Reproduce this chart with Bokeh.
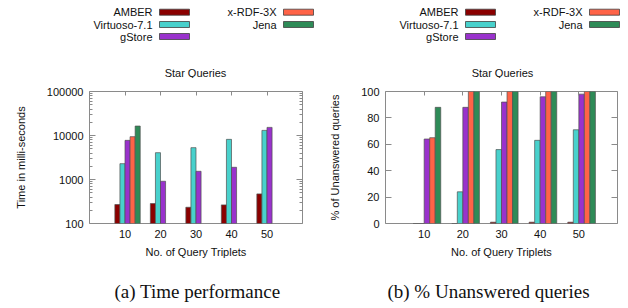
from bokeh.plotting import figure
from bokeh.layouts import row, column
from bokeh.models import Range1d, FixedTicker, LinearAxis, LogAxis, ColumnDataSource
from bokeh.core.properties import value
from bokeh.embed import file_html
from bokeh.resources import INLINE

nan = float("nan")

categories = ["10", "20", "30", "40", "50"]
systems = ["AMBER", "Virtuoso-7.1", "gStore", "x-RDF-3X", "Jena"]
colors = ["#8B0000", "#48D1CC", "#9932CC", "#FF6347", "#2E8B57"]

# (a) time performance, ms (log scale)
time_amber = [270, 284, 234, 265, 471]
time_virtuoso = [2290, 4070, 5290, 8170, 13070]
time_gstore = [7760, 912, 1537, 1894, 15290]
time_xrdf3x = [9400, nan, nan, nan, nan]
time_jena = [16400, nan, nan, nan, nan]

# (b) % unanswered queries
unans_amber = [0, 0, 1, 1, 1]
unans_virtuoso = [0, 24, 56, 63, 71]
unans_gstore = [64, 88, 92, 96, 98]
unans_xrdf3x = [65, 100, 100, 100, 100]
unans_jena = [88, 100, 100, 100, 100]

time_ticks = [100, 1000, 10000, 100000]
time_tick_labels = ["100", "1000", "10000", "100000"]
pct_ticks = [0, 20, 40, 60, 80, 100]
pct_tick_labels = ["0", "20", "40", "60", "80", "100"]

title_text = "Star Queries"
xlabel = "No. of Query Triplets"
ylabel_a = "Time in milli-seconds"
ylabel_b = "% of Unanswered queries"
caption_a = "(a) Time performance"
caption_b = "(b) % Unanswered queries"

FONT = "Liberation Sans"
FS = "11px"
TXT = "#111111"
FRAME = "#8a8a8a"
SERIF = "Liberation Serif"

TOTAL_W = 624
TOP_H, MAIN_H, CAP_H = 78, 190, 36
FRAME_TOP, FRAME_BOT = 91, 223


def strip(y0, h):
    s = figure(width=TOTAL_W, height=h, output_backend="svg", toolbar_location=None,
               x_range=Range1d(0, TOTAL_W), y_range=Range1d(y0 + h, y0),
               min_border=0, x_axis_location=None, y_axis_location=None)
    s.grid.visible = False
    s.outline_line_color = None
    s.background_fill_color = "white"
    s.border_fill_color = "white"
    return s


def add_legend_title(top, legend_cols, title_x):
    rows_y = [11.7, 24, 36]
    lx, ly, lt, bl, br, bt, bb, bc = [], [], [], [], [], [], [], []
    k = 0
    for c, (lab_r, box_l) in enumerate(legend_cols):
        nrows = 3 if c == 0 else 2
        for r in range(nrows):
            Y = rows_y[r]
            lx.append(lab_r); ly.append(Y); lt.append(systems[k])
            bl.append(box_l); br.append(box_l + 30)
            bt.append(Y - 3); bb.append(Y + 3); bc.append(colors[k])
            k += 1
    top.text(x=lx, y=ly, text=lt, text_align="right", text_baseline="middle",
             text_font=value(FONT), text_font_size=value(FS), text_color=TXT)
    top.quad(left=bl, right=br, top=bt, bottom=bb, fill_color=bc,
             line_color="#404040", line_width=0.8)
    top.text(x=[title_x], y=[72], text=[title_text], text_align="center",
             text_baseline="middle", text_font=value(FONT),
             text_font_size=value(FS), text_color=TXT)


def make(series, log, y_lo, y_hi, yticks, ylabels, ylab, x0, w, frame_l, frame_r):
    kw = dict(y_axis_type="log") if log else {}
    p = figure(width=w, height=MAIN_H, output_backend="svg",
               toolbar_location=None, x_range=Range1d(-1, 5),
               y_range=Range1d(y_lo, y_hi),
               min_border_left=frame_l - x0, min_border_right=x0 + w - frame_r,
               min_border_top=FRAME_TOP - TOP_H,
               min_border_bottom=TOP_H + MAIN_H - FRAME_BOT,
               x_axis_location=None, y_axis_location=None, **kw)
    p.grid.visible = False
    p.outline_line_color = FRAME
    p.outline_line_width = 1
    p.background_fill_color = "white"
    p.border_fill_color = "white"

    n = len(series)
    for j, vals in enumerate(series):
        xs = [i + (j - (n - 1) / 2) / 7 + 1 / 14 for i in range(len(categories))]
        src = ColumnDataSource(dict(x=xs, top=vals))
        p.vbar(x="x", top="top", bottom=y_lo, width=1 / 7, source=src,
               fill_color=colors[j], line_color="#505050", line_width=0.7)

    cat_idx = list(range(len(categories)))
    xa = LinearAxis(ticker=FixedTicker(ticks=cat_idx),
                    major_label_overrides={i: c for i, c in zip(cat_idx, categories)},
                    axis_label=xlabel, major_tick_in=0, major_tick_out=0,
                    minor_tick_in=0, minor_tick_out=0, axis_line_color=None,
                    major_label_standoff=6, axis_label_standoff=5,
                    major_label_text_font=FONT, major_label_text_font_size=FS,
                    major_label_text_color=TXT,
                    axis_label_text_font=FONT, axis_label_text_font_size=FS,
                    axis_label_text_font_style="normal", axis_label_text_color=TXT)
    p.add_layout(xa, "below")
    xt = LinearAxis(ticker=FixedTicker(ticks=cat_idx), major_tick_in=4,
                    major_tick_out=0, minor_tick_in=0, minor_tick_out=0,
                    axis_line_color=None, major_tick_line_color=FRAME,
                    major_label_overrides={i: "" for i in cat_idx},
                    major_label_text_font_size="4px", major_label_standoff=0)
    p.add_layout(xt, "above")

    if log:
        minors = [m * 10 ** e for e in range(2, 5) for m in range(2, 10)]
        AxisCls = LogAxis
    else:
        minors = []
        AxisCls = LinearAxis
    ya = AxisCls(ticker=FixedTicker(ticks=yticks, minor_ticks=minors),
                 major_label_overrides={t: l for t, l in zip(yticks, ylabels)},
                 axis_label=ylab, major_tick_in=6, major_tick_out=0,
                 minor_tick_in=3, minor_tick_out=0, axis_line_color=None,
                 major_tick_line_color=FRAME, minor_tick_line_color=FRAME,
                 major_label_standoff=6, axis_label_standoff=17,
                 major_label_text_font=FONT, major_label_text_font_size=FS,
                 major_label_text_color=TXT,
                 axis_label_text_font=FONT, axis_label_text_font_size=FS,
                 axis_label_text_font_style="normal", axis_label_text_color=TXT)
    p.add_layout(ya, "left")
    yr = AxisCls(ticker=FixedTicker(ticks=yticks, minor_ticks=minors),
                 major_tick_in=6, major_tick_out=0, minor_tick_in=3,
                 minor_tick_out=0, axis_line_color=None,
                 major_tick_line_color=FRAME, minor_tick_line_color=FRAME,
                 major_label_overrides={t: "" for t in yticks},
                 major_label_text_font_size="4px", major_label_standoff=0)
    p.add_layout(yr, "right")
    return p


top = strip(0, TOP_H)
add_legend_title(top, [(152, 159), (276, 283)], 195)
add_legend_title(top, [(458, 465), (582, 589)], 502)

p1 = make([time_amber, time_virtuoso, time_gstore, time_xrdf3x, time_jena], True,
          100, 100000, time_ticks, time_tick_labels, ylabel_a, 0, 314, 89, 302)
p2 = make([unans_amber, unans_virtuoso, unans_gstore, unans_xrdf3x, unans_jena], False,
          0, 100, pct_ticks, pct_tick_labels, ylabel_b, 314, 310, 385, 617)

cap = strip(TOP_H + MAIN_H, CAP_H)
cap.text(x=[197, 488], y=[291, 291], text=[caption_a, caption_b], text_align="center",
         text_baseline="middle", text_font=value(SERIF),
         text_font_size=value("19px"), text_color="#111111")

layout = column(top, row(p1, p2), cap)
open("out.html", "w").write(file_html(layout, INLINE))
